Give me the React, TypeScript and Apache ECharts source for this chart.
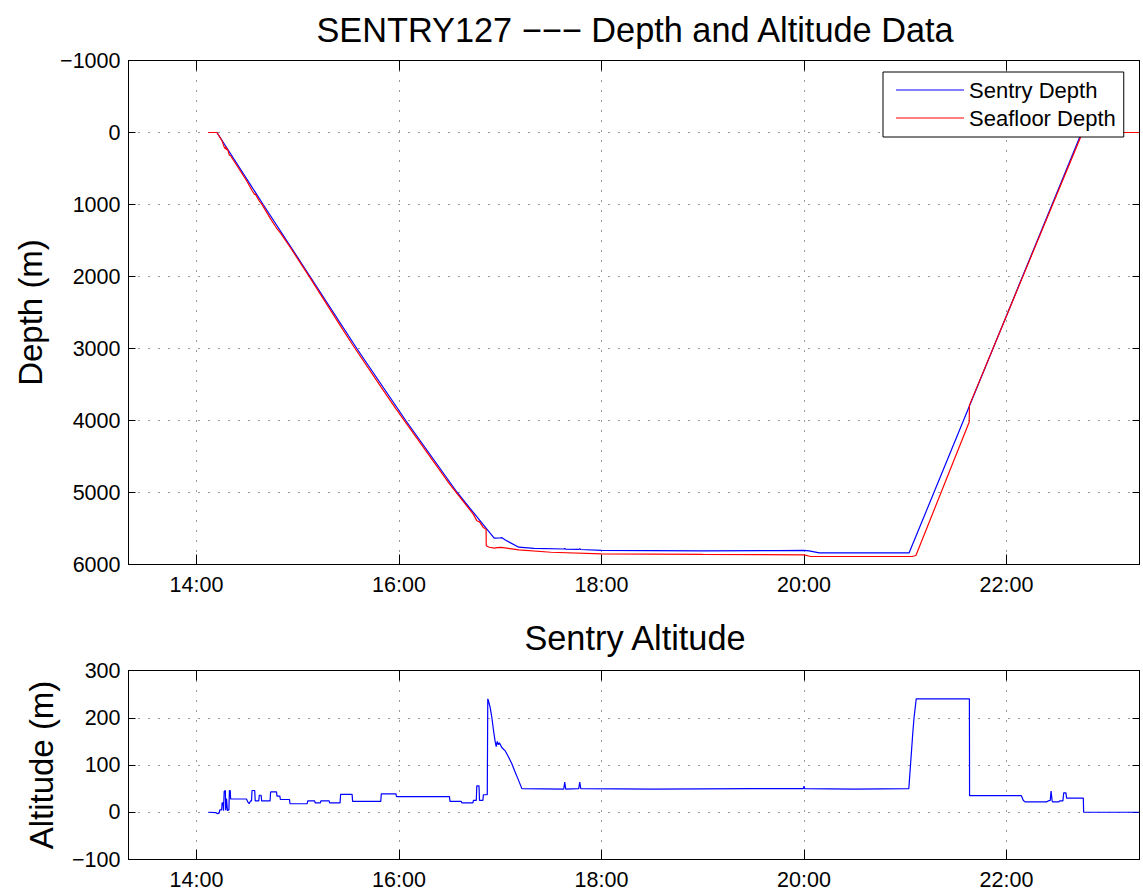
import React, { useEffect, useRef } from "react";
import * as echarts from "echarts";

const FONT = "'Liberation Sans', Arial, Helvetica, sans-serif";

// x axis (time of day) limits and tick labels
const timeRange = ["13:19.7", "23:18.8"];
const timeTickLabels = ["14:00", "16:00", "18:00", "20:00", "22:00"];

// y axis ranges
const depthRange = [-1000, 6000];
const altitudeRange = [-100, 300];

// Sentry depth (m)
const depthTimes = [
  "14:07.0", "14:12.1", "14:39.5", "15:07.3", "15:35.0", "16:04.0", "16:34.5", "16:56.4",
  "17:00.0", "17:01.0", "17:03.0", "17:11.0", "17:20.0", "17:37.8", "17:38.2", "17:38.8",
  "17:46.6", "17:47.1", "17:47.7", "18:00.0", "19:00.0", "19:45.0", "20:00.0", "20:03.0",
  "20:09.0", "21:02.3", "22:44.5", "23:18.5",
];
const sentryDepth = [
  0, 0, 1000, 2000, 3000, 4000, 5000, 5635,
  5630, 5628, 5660, 5760, 5775, 5785, 5776, 5787,
  5790, 5781, 5792, 5805, 5812, 5806, 5803, 5812,
  5838, 5838, 0, 0,
];

// Seafloor depth (m)
const seafloorTimes = [
  "14:07.0", "14:12.1", "14:15.0", "14:15.6", "14:16.4", "14:17.1", "14:17.4", "14:17.8",
  "14:18.4", "14:19.5", "14:20.2", "14:29.6", "14:32.9", "14:34.5", "14:34.8", "14:37.2",
  "14:38.6", "14:43.9", "14:47.4", "14:49.7", "14:55.4", "15:07.3", "15:25.4", "15:32.2",
  "15:49.5", "15:58.2", "16:30.0", "16:44.0", "16:46.1", "16:47.7", "16:50.0", "16:51.6",
  "16:51.7", "16:53.5", "16:56.5", "16:58.0", "17:00.7", "17:11.0", "17:30.0", "18:00.0",
  "19:00.0", "20:00.0", "20:04.0", "21:04.0", "21:06.3", "21:37.9", "21:38.0", "22:44.5",
  "22:45.7", "23:18.5",
];
const seafloorDepth = [
  0, 0, 111, 148, 201, 228, 197, 237,
  234, 316, 323, 666, 805, 864, 852, 952,
  991, 1200, 1327, 1394, 1590, 2020, 2690, 2937,
  3539, 3839, 4885, 5300, 5392, 5408, 5487, 5510,
  5740, 5760, 5772, 5765, 5762, 5797, 5830, 5853,
  5860, 5866, 5889, 5889, 5875, 4020, 3790, 30,
  0, 0,
];

// Sentry altitude (m)
const altitudeTimes = [
  "14:07.0", "14:11.6", "14:12.4", "14:13.4", "14:13.8", "14:14.9", "14:15.2", "14:15.8",
  "14:16.0", "14:16.4", "14:17.1", "14:17.3", "14:17.8", "14:18.3", "14:19.2", "14:19.5",
  "14:20.0", "14:20.2", "14:29.6", "14:30.4", "14:31.2", "14:32.0", "14:32.6", "14:32.9",
  "14:34.5", "14:34.8", "14:36.9", "14:37.2", "14:38.3", "14:38.6", "14:43.6", "14:43.9",
  "14:47.4", "14:47.7", "14:49.4", "14:49.7", "14:55.1", "14:55.4", "15:05.6", "15:05.9",
  "15:10.0", "15:10.3", "15:13.4", "15:13.7", "15:18.6", "15:18.9", "15:25.1", "15:25.4",
  "15:32.2", "15:32.5", "15:49.2", "15:49.5", "15:58.2", "15:58.5", "16:29.9", "16:30.2",
  "16:36.9", "16:37.2", "16:43.8", "16:44.1", "16:45.8", "16:46.1", "16:47.4", "16:47.7",
  "16:49.7", "16:50.0", "16:52.3", "16:52.6", "16:53.0", "16:54.0", "16:55.0", "16:56.0",
  "16:57.0", "16:57.6", "16:58.2", "16:58.9", "16:59.5", "17:00.9", "17:02.9", "17:04.9",
  "17:06.8", "17:08.8", "17:10.8", "17:12.8", "17:37.6", "17:38.2", "17:38.8", "17:46.5",
  "17:47.1", "17:47.7", "18:30.0", "19:30.0", "19:59.6", "20:00.0", "20:00.4", "20:30.0",
  "21:02.1", "21:04.5", "21:05.2", "21:06.5", "21:38.0", "21:38.1", "22:08.8", "22:10.0",
  "22:11.0", "22:23.6", "22:24.7", "22:25.9", "22:26.4", "22:27.0", "22:27.3", "22:31.0",
  "22:31.5", "22:33.4", "22:33.9", "22:35.2", "22:35.6", "22:45.5", "22:45.7", "23:18.5",
];
const sentryAltitude = [
  0, -1, -3, -2, 5, 5, 20, 20,
  3, 44, 46, 4, 29, 4, 5, 46,
  46, 28, 28, 22, 18, 24, 24, 46,
  46, 24, 24, 36, 36, 24, 24, 43,
  43, 34, 34, 27, 27, 18, 18, 24,
  24, 20, 20, 24, 24, 20, 20, 38,
  38, 23, 23, 39, 39, 33, 33, 23,
  23, 20, 20, 25, 25, 56, 56, 25,
  25, 37, 37, 240, 236, 222, 201, 173,
  149, 139, 150, 143, 147, 137, 130, 117,
  103, 85, 68, 50, 49, 64, 49, 50,
  64, 50, 49, 50, 50, 55, 50, 49,
  50, 170, 200, 240, 240, 35, 35, 25,
  22, 22, 24, 25, 45, 25, 22, 22,
  24, 24, 41, 41, 30, 30, 0, 0,
];

function toMin(s: string): number {
  const [h, m] = s.split(":");
  return Number(h) * 60 + Number(m);
}
function fmtTime(v: number): string {
  const h = Math.floor(v / 60 + 1e-9);
  const m = Math.round(v - h * 60);
  return `${h}:${String(m).padStart(2, "0")}`;
}
const fmtNum = (v: number) => String(v).replace("-", "\u2212");

const X_MIN = toMin(timeRange[0]);
const X_MAX = toMin(timeRange[1]);
const xTicks = timeTickLabels.map(toMin);

const pairs = (ts: string[], vs: number[]) => ts.map((t, i) => [toMin(t), vs[i]]);

const gridLine = { color: "#333", width: 1, type: [1, 9] as number[] };
const axisLineStyle = { color: "#000", width: 1 };

function xAxes(gridIndex: number) {
  return [
    {
      gridIndex,
      type: "value",
      min: X_MIN,
      max: X_MAX,
      position: "bottom",
      axisLine: { show: true, onZero: false, lineStyle: axisLineStyle },
      axisTick: { show: true, inside: true, length: 10, customValues: xTicks, lineStyle: axisLineStyle },
      axisLabel: {
        show: true,
        customValues: xTicks,
        formatter: (v: number) => fmtTime(v),
        fontSize: 21.5,
        fontFamily: FONT,
        color: "#000",
        margin: 9,
      },
      splitLine: { show: true, lineStyle: gridLine },
    },
    {
      gridIndex,
      type: "value",
      min: X_MIN,
      max: X_MAX,
      position: "top",
      axisLine: { show: true, onZero: false, lineStyle: axisLineStyle },
      axisTick: { show: true, inside: true, length: 10, customValues: xTicks, lineStyle: axisLineStyle },
      axisLabel: { show: false },
      splitLine: { show: false },
    },
  ];
}

function yAxes(gridIndex: number, range: number[], interval: number, inverse: boolean) {
  const common = {
    gridIndex,
    type: "value",
    min: range[0],
    max: range[1],
    interval,
    inverse,
  };
  return [
    {
      ...common,
      position: "left",
      axisLine: { show: true, onZero: false, lineStyle: axisLineStyle },
      axisTick: { show: true, inside: true, length: 7, lineStyle: axisLineStyle },
      axisLabel: {
        show: true,
        formatter: (v: number) => fmtNum(v),
        fontSize: 21.5,
        fontFamily: FONT,
        color: "#000",
        margin: 8,
      },
      splitLine: { show: true, lineStyle: gridLine },
    },
    {
      ...common,
      position: "right",
      axisLine: { show: true, onZero: false, lineStyle: axisLineStyle },
      axisTick: { show: true, inside: true, length: 7, lineStyle: axisLineStyle },
      axisLabel: { show: false },
      splitLine: { show: false },
    },
  ];
}

export default function App() {
  const ref = useRef<HTMLDivElement>(null);

  useEffect(() => {
    if (!ref.current) return;
    const chart = echarts.init(ref.current, undefined, { renderer: "svg" });
    const textStyle = (text: string, size: number) => ({
      text,
      fontSize: size,
      fontFamily: FONT,
      fill: "#000",
      align: "center",
      verticalAlign: "middle",
    });
    chart.setOption({
      animation: false,
      backgroundColor: "#fff",
      grid: [
        { left: 128.5, top: 60.5, width: 1011, height: 504 },
        { left: 128.5, top: 670.5, width: 1011, height: 189 },
      ],
      xAxis: [...xAxes(0), ...xAxes(1)],
      yAxis: [
        ...yAxes(0, depthRange, 1000, true),
        ...yAxes(1, altitudeRange, 100, false),
      ],
      legend: {
        data: ["Sentry Depth", "Seafloor Depth"],
        orient: "vertical",
        left: 883,
        top: 72,
        icon: "rect",
        itemWidth: 68,
        itemHeight: 1.2,
        itemGap: 6,
        padding: [7, 8, 8, 13],
        borderColor: "#000",
        borderWidth: 1,
        backgroundColor: "#fff",
        textStyle: { fontSize: 22, lineHeight: 22, fontFamily: FONT, color: "#000" },
      },
      graphic: [
        { type: "text", x: 635, y: 30, style: textStyle("SENTRY127 \u2212\u2212\u2212 Depth and Altitude Data", 34.3) },
        { type: "text", x: 635, y: 638, style: textStyle("Sentry Altitude", 34.3) },
        { type: "text", x: 30.5, y: 312.5, rotation: Math.PI / 2, style: textStyle("Depth (m)", 33) },
        { type: "text", x: 41.5, y: 765, rotation: Math.PI / 2, style: textStyle("Altitude (m)", 33) },
      ],
      series: [
        {
          name: "Sentry Depth",
          type: "line",
          xAxisIndex: 0,
          yAxisIndex: 0,
          data: pairs(depthTimes, sentryDepth),
          symbol: "none",
          lineStyle: { color: "#0000ff", width: 1.2 },
          itemStyle: { color: "#0000ff" },
        },
        {
          name: "Seafloor Depth",
          type: "line",
          xAxisIndex: 0,
          yAxisIndex: 0,
          data: pairs(seafloorTimes, seafloorDepth),
          symbol: "none",
          lineStyle: { color: "#ff0000", width: 1.2 },
          itemStyle: { color: "#ff0000" },
        },
        {
          name: "Sentry Altitude",
          type: "line",
          xAxisIndex: 2,
          yAxisIndex: 2,
          data: pairs(altitudeTimes, sentryAltitude),
          symbol: "none",
          lineStyle: { color: "#0000ff", width: 1.2 },
          itemStyle: { color: "#0000ff" },
        },
      ],
    });
    return () => chart.dispose();
  }, []);

  return (
    <div
      ref={ref}
      style={{ position: "fixed", left: 0, top: 0, width: 1143, height: 894, background: "#fff" }}
    />
  );
}
